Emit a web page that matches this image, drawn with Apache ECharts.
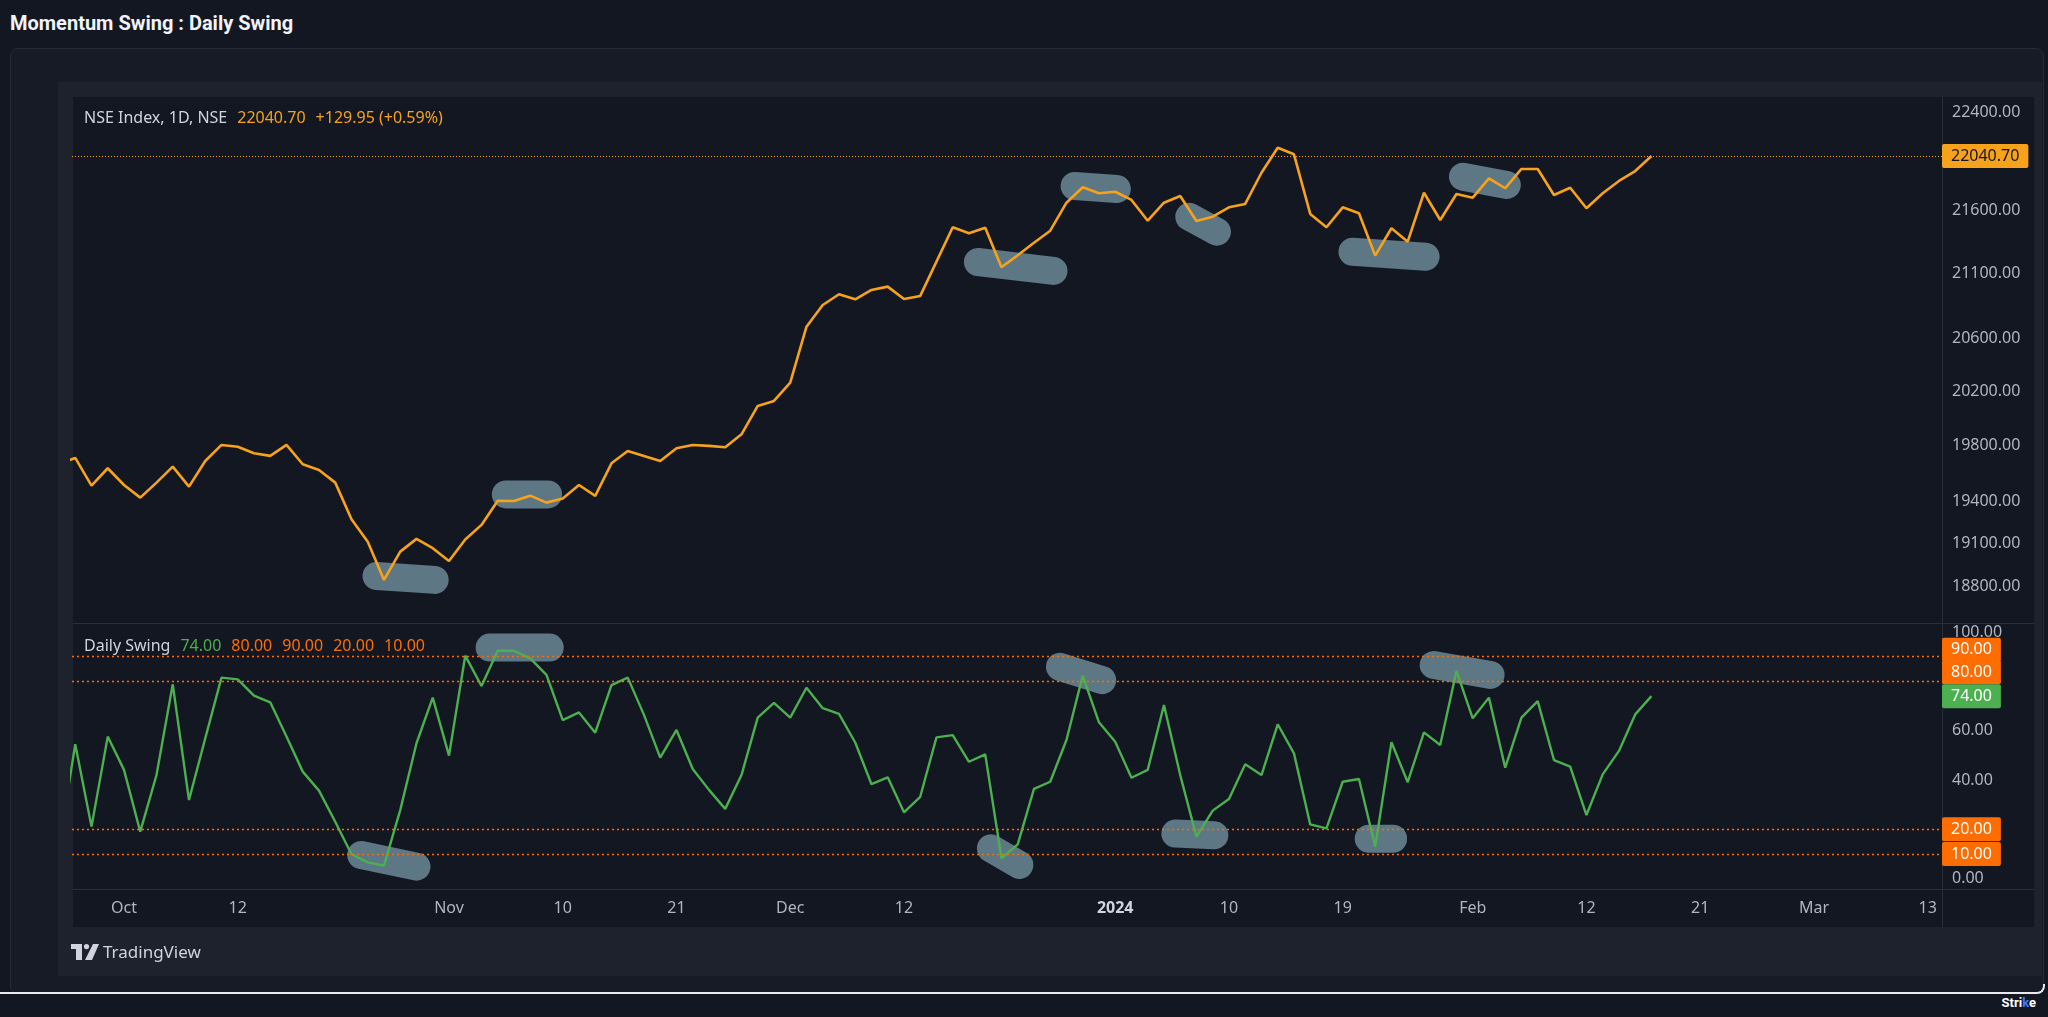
<!DOCTYPE html>
<html><head><meta charset="utf-8">
<script src="https://cdn.jsdelivr.net/npm/echarts@6/dist/echarts.min.js"></script>
<style>
html,body{margin:0;padding:0;background:#131722;width:2048px;height:1017px;overflow:hidden;font-family:'Noto Sans',sans-serif;}
.abs{position:absolute;}
.leg{position:absolute;font-size:16px;line-height:20px;white-space:nowrap;font-family:'Noto Sans',sans-serif;}
.leg span{margin-left:10px;}
</style></head><body>
<div class="abs" style="left:10px;top:11px;font-family:Roboto;font-weight:700;font-size:20px;line-height:24px;color:#f0f3fa;white-space:nowrap;">Momentum Swing : Daily Swing</div>
<div class="abs" style="left:10px;top:48px;width:2034px;height:946px;background:#171b26;border:1px solid #262b38;border-radius:8px;box-sizing:border-box;"></div>
<div class="abs" style="left:58px;top:82px;width:1984px;height:894px;background:#1e222d;"></div>
<div class="abs" style="left:73px;top:97px;width:1961px;height:830px;background:#131722;"></div>
<div class="abs" style="left:73px;top:623px;width:1961px;height:1px;background:#2a2e39;"></div>
<div class="abs" style="left:73px;top:889px;width:1961px;height:1px;background:#2a2e39;"></div>
<div class="abs" style="left:1942px;top:97px;width:1px;height:830px;background:#2a2e39;"></div>
<div class="abs" style="left:0px;top:984px;width:2045px;height:10px;border-bottom:2px solid #e8eaef;border-right:2px solid #e8eaef;border-bottom-right-radius:8px;box-sizing:border-box;"></div>
<div class="abs" style="right:12px;top:994px;font-family:Roboto;font-weight:700;font-size:13px;line-height:18px;color:#ffffff;">Stri<span style="color:#3d7bf5">k</span>e</div>
<div id="chart" class="abs" style="left:0;top:0;width:2048px;height:1017px;"></div>
<div class="leg" id="leg1" style="left:84px;top:107px;color:#d1d4dc;"></div>
<div class="leg" id="leg2" style="left:84px;top:635px;color:#d1d4dc;"></div>
<div class="abs" style="left:71px;top:941px;height:22px;display:flex;align-items:center;">
  <svg width="28" height="16" viewBox="0 0 28 16"><path d="M0 0H11V16H5V5H0Z" fill="#d1d4dc"/><circle cx="15.5" cy="2.6" r="2.6" fill="#d1d4dc"/><path d="M22 0H28L21 16H14Z" fill="#d1d4dc"/></svg>
  <span style="margin-left:4px;font-family:'Noto Sans';font-size:17px;line-height:22px;color:#d1d4dc;">TradingView</span>
</div>
<script>
const dates = ['2023-09-26','2023-09-27','2023-09-28','2023-09-29','2023-10-03','2023-10-04','2023-10-05','2023-10-06','2023-10-09','2023-10-10',
'2023-10-11','2023-10-12','2023-10-13','2023-10-16','2023-10-17','2023-10-18','2023-10-19','2023-10-20','2023-10-23','2023-10-25',
'2023-10-26','2023-10-27','2023-10-30','2023-10-31','2023-11-01','2023-11-02','2023-11-03','2023-11-06','2023-11-07','2023-11-08',
'2023-11-09','2023-11-10','2023-11-12','2023-11-13','2023-11-15','2023-11-16','2023-11-17','2023-11-20','2023-11-21','2023-11-22',
'2023-11-23','2023-11-24','2023-11-28','2023-11-29','2023-11-30','2023-12-01','2023-12-04','2023-12-05','2023-12-06','2023-12-07',
'2023-12-08','2023-12-11','2023-12-12','2023-12-13','2023-12-14','2023-12-15','2023-12-18','2023-12-19','2023-12-20','2023-12-21',
'2023-12-22','2023-12-26','2023-12-27','2023-12-28','2023-12-29','2024-01-01','2024-01-02','2024-01-03','2024-01-04','2024-01-05',
'2024-01-08','2024-01-09','2024-01-10','2024-01-11','2024-01-12','2024-01-15','2024-01-16','2024-01-17','2024-01-18','2024-01-19',
'2024-01-20','2024-01-23','2024-01-24','2024-01-25','2024-01-29','2024-01-30','2024-01-31','2024-02-01','2024-02-02','2024-02-05',
'2024-02-06','2024-02-07','2024-02-08','2024-02-09','2024-02-12','2024-02-13','2024-02-14','2024-02-15','2024-02-16','2024-02-19',
'2024-02-20','2024-02-21','2024-02-22','2024-02-23','2024-02-26','2024-02-27','2024-02-28','2024-02-29','2024-03-01','2024-03-04',
'2024-03-05','2024-03-06','2024-03-07','2024-03-11','2024-03-12','2024-03-13','2024-03-14'];

const priceValues = [19670,19712,19511,19637,19516,19425,19533,19649,19504,19690,
19807,19794,19746,19727,19807,19666,19625,19533,19270,19111,
18843,19041,19131,19065,18975,19127,19230,19403,19401,19439,
19389,19418,19516,19437,19673,19763,19727,19690,19783,19807,
19800,19790,19885,20095,20132,20268,20692,20859,20942,20903,
20975,21001,20905,20929,21196,21467,21419,21464,21152,21246,
21345,21440,21663,21787,21739,21751,21685,21519,21663,21717,
21517,21551,21626,21653,21904,22108,22054,21573,21467,21626,
21578,21243,21459,21353,21743,21525,21733,21703,21859,21779,
21935,21935,21725,21783,21618,21739,21838,21918,22040.70];

const swingValues = [13,54.5,21.1,57.6,44.1,19.1,42,78.8,31.9,56.9,
81.5,80.8,74.2,71.5,57.6,43.4,35.7,23.1,9.9,6.6,
5.3,27.8,54.9,73.4,49.9,90.4,78.1,92.4,92.4,89.3,
82.6,64.3,67.4,59.2,78.5,81.5,66.4,49.1,60.3,44.5,
36,28.3,42,65.3,71.3,65.3,77.4,69.1,66.8,55.2,
38.3,41.1,26.9,33.2,57.3,58.2,47.4,50.4,8.3,13.9,
36.4,39.3,56.2,82.3,63.4,55.5,40.9,44.1,70.4,42,
17,27.6,32.3,46.4,42,62.6,50.8,22,20.4,39.3,
40.4,13,55.3,39.1,59.3,54.2,84.2,65,73.4,45,
65.3,72,48.1,45.4,25.8,42.3,51.8,66.6,74];

const tickDates = ['2023-10-03','2023-10-12','2023-11-01','2023-11-10','2023-11-21','2023-12-01','2023-12-12','2024-01-01','2024-01-10','2024-01-19','2024-02-01','2024-02-12','2024-02-21','2024-03-01','2024-03-13'];
const tickLabels = ['Oct','12','Nov','10','21','Dec','12','2024','10','19','Feb','12','21','Mar','13'];
const priceTicks = [22400,21600,21100,20600,20200,19800,19400,19100,18800];
const swingTicks = [0,40,60,100];
const swingLevels = [80,90,20,10];
const priceChangeText = '+129.95 (+0.59%)';
// highlighter strokes: [barIndexStart, valueStart, barIndexEnd, valueEnd]
const priceHighlights = [[19.54,18870,23.12,18843],[27.5,19448,30.1,19448],[56.55,21193,61.2,21123],[62.5,21797,65.1,21773],[69.56,21551,71.26,21432],[79.6,21274,84.1,21235],[86.4,21872,89.1,21805]];
const swingHighlights = [[18.6,9.6,22.0,4.9],[26.5,93.7,30.2,93.7],[57.35,12.3,59.1,5.6],[61.6,85.9,64.2,80.5],[68.7,18.3,71.1,17.6],[80.6,16.2,82.1,16.2],[84.6,86.6,88.1,82.6]];

const ORANGE = '#f7a21b', LEVEL = '#ff6d00', GREEN = '#4caf50', AXIS_TXT = '#b2b5be';
const FONT = 'Noto Sans';
const lastPrice = priceValues[priceValues.length-1];
const lastSwing = swingValues[swingValues.length-1];

document.getElementById('leg1').innerHTML = 'NSE Index, 1D, NSE<span style="color:'+ORANGE+'">'+lastPrice.toFixed(2)+'</span><span style="color:'+ORANGE+'">'+priceChangeText+'</span>';
document.getElementById('leg2').innerHTML = 'Daily Swing<span style="color:'+GREEN+'">'+lastSwing.toFixed(2)+'</span>' + swingLevels.map(v=>'<span style="color:'+LEVEL+'">'+v.toFixed(2)+'</span>').join('');

const tickIdx = tickDates.map(d => dates.indexOf(d));
const labelMap = {};
tickIdx.forEach((i,k) => labelMap[i] = tickLabels[k]);
const pricePairs = priceValues.map((v,i)=>[i,v]);
const swingPairs = swingValues.map((v,i)=>[i,v]);
const xMin = 0.8, xMax = 115.88;

function hlRender(params, api){
  const p1 = api.coord([api.value(0), api.value(1)]);
  const p2 = api.coord([api.value(2), api.value(3)]);
  return {type:'line', shape:{x1:p1[0],y1:p1[1],x2:p2[0],y2:p2[1]}, style:{stroke:'#5e7784', lineWidth:28, lineCap:'round'}};
}
const HIDDEN = {color:'rgba(0,0,0,0)', width:0};
const tickLbl = (txt) => ({show:true, position:'end', distance:10, formatter: txt, color:AXIS_TXT, fontSize:16, fontFamily:FONT});
const boxLbl = (txt, bg, fg, offY) => ({show:true, position:'end', distance:0, formatter: txt, color:fg, backgroundColor:bg, padding:[3,9], lineHeight:18, borderRadius:2, fontSize:16, fontFamily:FONT, offset:[0, offY||0]});

const chart = echarts.init(document.getElementById('chart'), null, {renderer:'canvas'});
chart.setOption({
  backgroundColor:'transparent',
  animation:false,
  grid:[{left:72, top:98, width:1870, height:525},{left:72, top:623, width:1870, height:266}],
  xAxis:[
    {type:'value', gridIndex:0, min:xMin, max:xMax, show:false},
    {type:'value', gridIndex:1, min:xMin, max:xMax, axisLine:{show:false}, axisTick:{show:false}, splitLine:{show:false},
     axisLabel:{customValues: tickIdx, formatter: v => labelMap[v]==='2024' ? '{b|2024}' : (labelMap[v]||''), color:AXIS_TXT, fontSize:16, fontFamily:FONT, margin:11,
       rich:{b:{fontWeight:'bold', color:'#d1d4dc', fontSize:16, fontFamily:FONT}}}}
  ],
  yAxis:[
    {type:'log', logBase:10, gridIndex:0, position:'right', min:18545, max:22518, axisLine:{show:false}, axisTick:{show:false}, axisLabel:{show:false}, splitLine:{show:false}},
    {type:'value', gridIndex:1, position:'right', min:-4.18, max:103.65, axisLine:{show:false}, axisTick:{show:false}, splitLine:{show:false},
     axisLabel:{customValues: swingTicks, formatter: v => v.toFixed(2), color:AXIS_TXT, fontSize:16, fontFamily:FONT, margin:10}}
  ],
  series:[
    {type:'custom', xAxisIndex:0, yAxisIndex:0, z:1, silent:true, data:priceHighlights, encode:{x:[0,2], y:[1,3]}, renderItem:hlRender},
    {type:'custom', xAxisIndex:1, yAxisIndex:1, z:1, silent:true, data:swingHighlights, encode:{x:[0,2], y:[1,3]}, renderItem:hlRender},
    {type:'line', xAxisIndex:0, yAxisIndex:0, data:pricePairs, showSymbol:false, lineStyle:{color:ORANGE, width:2.6}, z:3,
     markLine:{symbol:'none', silent:true, animation:false,
       data: priceTicks.map(v => ({yAxis:v, lineStyle:HIDDEN, label:tickLbl(v.toFixed(2))}))
         .concat([{yAxis:lastPrice, lineStyle:{color:ORANGE, type:[1,2], width:1}, label:boxLbl(lastPrice.toFixed(2), ORANGE, '#131722')}])}},
    {type:'line', xAxisIndex:1, yAxisIndex:1, data:swingPairs, showSymbol:false, lineStyle:{color:GREEN, width:2.4}, z:3,
     markLine:{symbol:'none', silent:true, animation:false,
       data: swingLevels.map(v => ({yAxis:v, lineStyle:{color:LEVEL, type:[2,3], width:1.3},
               label:boxLbl(v.toFixed(2), LEVEL, '#ffffff', v===90 ? -7 : (v===80 ? -9 : 0))}))
         .concat([{yAxis:lastSwing, lineStyle:HIDDEN, label:boxLbl(lastSwing.toFixed(2), GREEN, '#ffffff')}])}}
  ]
});
</script>
</body></html>
